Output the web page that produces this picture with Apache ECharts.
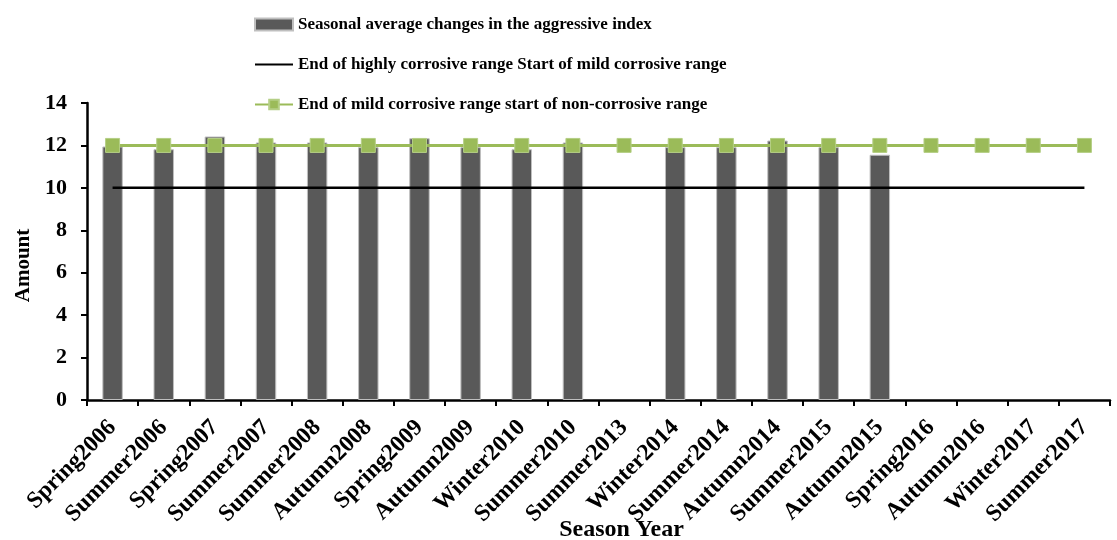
<!DOCTYPE html>
<html>
<head>
<meta charset="utf-8">
<script src="https://cdn.jsdelivr.net/npm/echarts@6/dist/echarts.min.js"></script>
<style>html,body{margin:0;padding:0;background:#fff;}#c{width:1117px;height:540px;}</style>
</head>
<body>
<div id="c"></div>
<script>
var categories = ['Spring2006','Summer2006','Spring2007','Summer2007','Summer2008','Autumn2008','Spring2009','Autumn2009','Winter2010','Summer2010','Summer2013','Winter2014','Summer2014','Autumn2014','Summer2015','Autumn2015','Spring2016','Autumn2016','Winter2017','Summer2017'];
var seasonalIndex = [11.95,11.82,12.42,12.14,12.14,11.92,12.34,11.92,11.82,12.14,null,11.92,11.92,12.23,11.92,11.56,null,null,null,null];
var highlyCorrosiveEnd = [10,10,10,10,10,10,10,10,10,10,10,10,10,10,10,10,10,10,10,10];
var mildCorrosiveEnd = [12,12,12,12,12,12,12,12,12,12,12,12,12,12,12,12,12,12,12,12];
var yTicks = [0,2,4,6,8,10,12,14];

var font = 'Liberation Serif';
var chart = echarts.init(document.getElementById('c'));
chart.setOption({
  animation: false,
  textStyle: {fontFamily: font},
  legend: {
    orient: 'vertical',
    left: 249,
    top: 11,
    itemGap: 23,
    itemWidth: 38,
    itemHeight: 12,
    textStyle: {fontFamily: font, fontWeight: 'bold', fontSize: 17, color: '#000'},
    data: [
      {name: 'Seasonal average changes in the aggressive index', icon: 'rect'},
      {name: 'End of highly corrosive range Start of mild corrosive range', itemStyle: {color: 'rgba(0,0,0,0)', borderWidth: 0}},
      {name: 'End of mild corrosive range start of non-corrosive range'}
    ]
  },
  grid: {left: 87, right: 7, top: 103, bottom: 140, outerBoundsMode: 'none', containLabel: false},
  xAxis: {
    type: 'category',
    data: categories,
    name: 'Season Year',
    nameLocation: 'middle',
    nameGap: 118,
    nameMoveOverlap: false,
    nameTextStyle: {fontFamily: font, fontWeight: 'bold', fontSize: 24, color: '#000', padding: [0, 0, 0, 46]},
    axisLine: {lineStyle: {color: '#000', width: 2.5}},
    axisTick: {show: true, length: 6, lineStyle: {color: '#000', width: 2}},
    axisLabel: {rotate: 45, margin: 24, fontFamily: font, fontWeight: 'bold', fontSize: 23.5, color: '#000'}
  },
  yAxis: {
    type: 'value',
    min: yTicks[0],
    max: yTicks[yTicks.length - 1],
    interval: 2,
    name: 'Amount',
    nameLocation: 'middle',
    nameGap: 53,
    nameRotate: 90,
    nameMoveOverlap: false,
    nameTextStyle: {fontFamily: font, fontWeight: 'bold', fontSize: 21, color: '#000', padding: [0, 28, 0, 0]},
    axisLine: {show: true, lineStyle: {color: '#000', width: 2.5}},
    axisTick: {show: true, length: 6, lineStyle: {color: '#000', width: 2}},
    splitLine: {show: false},
    axisLabel: {margin: 20, fontFamily: font, fontWeight: 'bold', fontSize: 22, color: '#000'}
  },
  series: [
    {
      name: 'Seasonal average changes in the aggressive index',
      type: 'bar',
      data: seasonalIndex,
      barWidth: '40%',
      itemStyle: {color: '#595959', borderColor: '#bfbfbf', borderWidth: 1},
      z: 1
    },
    {
      name: 'End of highly corrosive range Start of mild corrosive range',
      type: 'line',
      data: highlyCorrosiveEnd,
      symbol: 'none',
      lineStyle: {color: '#000', width: 2.5},
      itemStyle: {color: '#000'},
      z: 2
    },
    {
      name: 'End of mild corrosive range start of non-corrosive range',
      type: 'line',
      data: mildCorrosiveEnd,
      symbol: 'rect',
      symbolSize: 14,
      lineStyle: {color: '#9BBB59', width: 3},
      itemStyle: {color: '#9BBB59', borderColor: '#b5cf86', borderWidth: 1},
      z: 3
    }
  ]
});
</script>
</body>
</html>
